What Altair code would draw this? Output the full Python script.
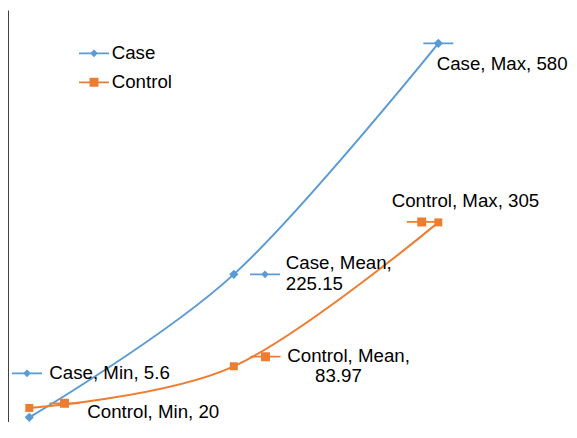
import altair as alt
import pandas as pd

# ---------------- data ----------------
categories = ["Min", "Mean", "Max"]
series_names = ["Case", "Control"]
case_values = [5.6, 225.15, 580]
control_values = [20, 83.97, 305]
colors = ["#5B9BD5", "#ED7D31"]
markers = ["diamond", "square"]

rows = []
for s, vals in zip(series_names, [case_values, control_values]):
    for i, (c, v) in enumerate(zip(categories, vals)):
        rows.append({"series": s, "stat": c, "idx": i, "value": v})
df = pd.DataFrame(rows)

FONT = "Liberation Sans"
FS = 18.7
W, H = 561, 412

x_scale = alt.Scale(domain=[-0.1042, 2.639], nice=False, zero=False)
y_scale = alt.Scale(domain=[-1.6, 631.2], nice=False, zero=False)
y_axis = alt.Axis(domain=True, ticks=False, labels=False, grid=False, title=None,
                  domainColor="#404040", domainWidth=1)
X = alt.X("idx:Q", scale=x_scale, axis=None)
Y = alt.Y("value:Q", scale=y_scale, axis=y_axis)
color_enc = alt.Color("series:N", scale=alt.Scale(domain=series_names, range=colors), legend=None)
shape_enc = alt.Shape("series:N", scale=alt.Scale(domain=series_names, range=markers), legend=None)
size_enc = alt.Size("series:N", scale=alt.Scale(domain=series_names, range=[85, 64]), legend=None)

lines = alt.Chart(df).mark_line(interpolate="cardinal", strokeWidth=2).encode(
    x=X, y=Y, color=color_enc, detail="series:N")
points = alt.Chart(df).mark_point(filled=True, opacity=1).encode(
    x=X, y=Y, color=color_enc, shape=shape_enc, size=size_enc)


def key_path(ox, oy, marker, r=15.0):
    def u(v):
        return round(v / r, 4)
    p = f"M{u(ox - 15)},{u(oy)}H{u(ox + 15)}"
    if marker == "diamond":
        h = 2.6
        p += f"M{u(ox)},{u(oy - h)}L{u(ox + h)},{u(oy)}L{u(ox)},{u(oy + h)}L{u(ox - h)},{u(oy)}Z"
    else:
        h = 3.6
        p += f"M{u(ox - h)},{u(oy - h)}H{u(ox + h)}V{u(oy + h)}H{u(ox - h)}Z"
    return p


def fmt(v):
    return f"{v:g}"


# label layout: (series, stat, key offset, [(line_parts, dx, dy)])
label_specs = [
    ("Case", "Min", (-2.3, -44.0), [("all", 20.0, -44.6)]),
    ("Control", "Min", (35.2, -4.6), [("all", 58.0, 3.8)]),
    ("Case", "Mean", (31.2, 0.0), [("head", 52.0, -11.0), ("val", 52.0, 10.0)]),
    ("Control", "Mean", (31.7, -9.6), [("head", 53.5, -10.0), ("val", 81.2, 9.5)]),
    ("Case", "Max", (0.0, 0.0), [("all", -1.6, 21.0)]),
    ("Control", "Max", (-16.6, -0.4), [("all", -46.6, -21.4)]),
]

layers = [lines, points]
for s, st, (kx, ky), parts in label_specs:
    si = series_names.index(s)
    sub = df[(df.series == s) & (df.stat == st)].copy()
    val = fmt(float(sub.value.iloc[0]))
    # key
    layers.append(alt.Chart(sub).mark_point(
        shape=key_path(kx, ky, markers[si]), size=900, fill=colors[si], stroke=colors[si],
        strokeWidth=1.75, opacity=1, fillOpacity=1).encode(x=X, y=Y))
    for part, dx, dy in parts:
        t = sub.copy()
        if part == "all":
            t["label"] = f"{s}, {st}, {val}"
        elif part == "head":
            t["label"] = f"{s}, {st},"
        else:
            t["label"] = val
        layers.append(alt.Chart(t).mark_text(
            align="left", baseline="middle", dx=dx, dy=dy, font=FONT, fontSize=FS,
            color="#000000").encode(x=X, y=Y, text="label:N"))

# legend (top-left, inside plot)
leg_y = [43.3, 72.3]
for i, s in enumerate(series_names):
    ld = pd.DataFrame({"series": [s]})
    layers.append(alt.Chart(ld).mark_point(
        shape=key_path(0, 0, markers[i]), size=900, fill=colors[i], stroke=colors[i],
        strokeWidth=1.75, opacity=1, fillOpacity=1).encode(
        x=alt.value(86), y=alt.value(leg_y[i])))
    layers.append(alt.Chart(ld).mark_text(
        align="left", baseline="middle", font=FONT, fontSize=FS, color="#000000").encode(
        x=alt.value(103.7), y=alt.value(leg_y[i]), text="series:N"))

chart = alt.layer(*layers).properties(
    width=W, height=H,
    autosize=alt.AutoSizeParams(type="none"),
    padding={"left": 0, "top": 2, "right": 0, "bottom": 0},
    background="white",
).configure_view(stroke=None)

chart.save("out.html", embed_options={"renderer": "svg", "actions": False})
